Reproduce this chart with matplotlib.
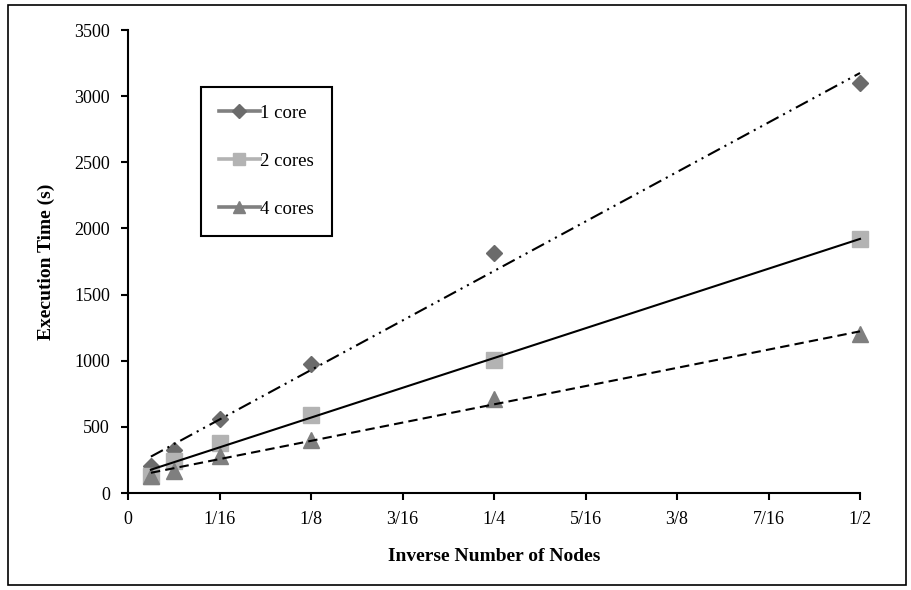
import matplotlib
matplotlib.use("Agg")
import matplotlib.pyplot as plt
from matplotlib.lines import Line2D
from matplotlib.patches import Rectangle
import numpy as np

# inverse node counts: 1/64 ... 1/2
inv_nodes = [1/64, 1/32, 1/16, 1/8, 1/4, 1/2]
time_1core = [205, 327, 562, 975, 1814, 3100]
time_2cores = [130, 240, 378, 592, 1005, 1920]
time_4cores = [125, 170, 278, 400, 710, 1200]

series_names = ['1 core', '2 cores', '4 cores']
xtick_vals = [k / 16 for k in range(9)]
xtick_labels = ['0', '1/16', '1/8', '3/16', '1/4', '5/16', '3/8', '7/16', '1/2']
ytick_vals = [0, 500, 1000, 1500, 2000, 2500, 3000, 3500]

plt.rcParams['font.family'] = ['Liberation Serif', 'DejaVu Serif']

fig = plt.figure(figsize=(9.12, 5.9), dpi=100)
ax = fig.add_axes([0.1404, 0.1644, 0.8026, 0.7847])

styles = [
    dict(marker='D', mc='#6b6b6b', lc='#808080', ms=8.5, lms=7, ls=(0, (6.5, 2.5, 1, 2.5, 1, 2.5))),
    dict(marker='s', mc='#b3b3b3', lc='#b3b3b3', ms=12, lms=8.5, ls='-'),
    dict(marker='^', mc='#7f7f7f', lc='#808080', ms=12, lms=9, ls=(0, (4.5, 2.5))),
]
series = [time_1core, time_2cores, time_4cores]

x = np.array(inv_nodes)
handles = []
for ys, st, name in zip(series, styles, series_names):
    ax.plot(x, ys, linestyle='none', marker=st['marker'], ms=st['ms'],
            mfc=st['mc'], mec=st['mc'], zorder=3, clip_on=False)
    # linear trendline over the measured range
    k, b = np.polyfit(x, ys, 1)
    xs = np.array([x.min(), x.max()])
    ax.plot(xs, k * xs + b, color='black', lw=1.5, linestyle=st['ls'],
            zorder=4, clip_on=False)
    handles.append(Line2D([], [], color=st['lc'], lw=2.6, marker=st['marker'],
                          ms=st['lms'], mfc=st['mc'], mec=st['mc'], label=name))

ax.set_xlim(0, 0.5)
ax.set_ylim(0, 3500)
ax.set_xticks(xtick_vals)
ax.set_xticklabels(xtick_labels)
ax.set_yticks(ytick_vals)
ax.tick_params(axis='both', direction='out', length=5, width=1.5, labelsize=13, colors='black')
ax.tick_params(axis='x', pad=8)
ax.tick_params(axis='y', pad=8)
for side in ['top', 'right']:
    ax.spines[side].set_visible(False)
for side in ['left', 'bottom']:
    ax.spines[side].set_linewidth(1.5)

ax.set_xlabel('Inverse Number of Nodes', fontsize=14, fontweight='bold', labelpad=14)
ax.set_ylabel('Execution Time (s)', fontsize=14, fontweight='bold', labelpad=14)

leg = ax.legend(handles=handles, loc='upper left', bbox_to_anchor=(0.0997, 0.877),
                fontsize=13.5, frameon=True, fancybox=False, framealpha=1,
                edgecolor='black', labelspacing=1.65, handlelength=2.2,
                handletextpad=0.0, borderpad=0.95, borderaxespad=0)
leg.get_frame().set_linewidth(1.5)

# border around the whole chart
fig.patches.append(Rectangle((0.009, 0.008), 0.984, 0.984, transform=fig.transFigure,
                             fill=False, edgecolor='black', lw=1.2))

fig.savefig('out.png', dpi=100)
